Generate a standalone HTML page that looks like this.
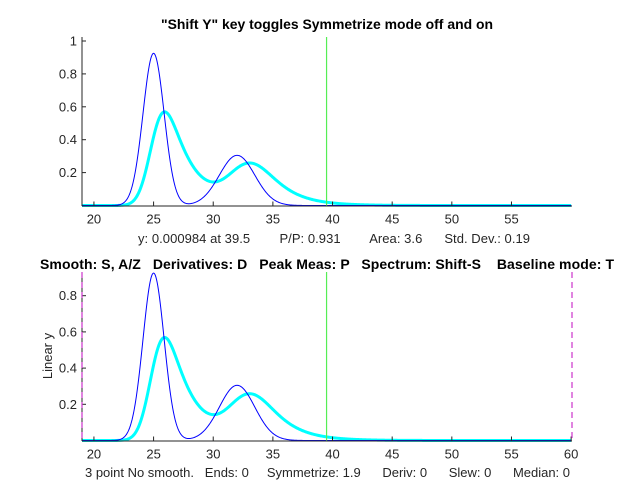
<!DOCTYPE html>
<html><head><meta charset="utf-8"><style>
html,body{margin:0;padding:0;background:#fff;}
svg{display:block;font-family:"Liberation Sans",Arial,sans-serif;}
.t{font-size:13px;fill:#262626;}
.s{font-size:13px;fill:#262626;}
.b{font-size:14px;font-weight:bold;fill:#000;}
</style></head><body>
<svg id="s" width="632" height="495" viewBox="0 0 632 495">
<rect width="632" height="495" fill="#fff"/>
<text class="b" x="161" y="29" textLength="332" lengthAdjust="spacingAndGlyphs">"Shift Y" key toggles Symmetrize mode off and on</text>
<text class="b" x="40" y="269" textLength="574" lengthAdjust="spacing" xml:space="preserve">Smooth: S, A/Z   Derivatives: D   Peak Meas: P   Spectrum: Shift-S    Baseline mode: T</text>
<text class="s" x="138" y="243" textLength="392" lengthAdjust="spacing" xml:space="preserve">y: 0.000984 at 39.5        P/P: 0.931        Area: 3.6      Std. Dev.: 0.19</text>
<text class="s" x="85" y="477" textLength="485" lengthAdjust="spacing" xml:space="preserve">3 point No smooth.   Ends: 0     Symmetrize: 1.9      Deriv: 0      Slew: 0      Median: 0</text>
<text class="s" transform="translate(52,356) rotate(-90)" text-anchor="middle">Linear y</text>
<g id="g"></g>
</svg>
<script>
var g=document.getElementById('g'),h='';
function X(x){return 82+(x-19)*11.93;}
var xs=[],b=[];
for(var x=19;x<=60.001;x+=0.05){xs.push(x);b.push(0.925*Math.exp(-Math.pow((x-25)/1.25,2))+0.305*Math.exp(-Math.pow((x-32)/2.1,2)));}
var tau=2.0,dx=0.05,a=Math.exp(-dx/tau),c=[],prev=0;
for(var i=0;i<b.length;i++){prev=a*prev+(1-a)*b[i];c.push(prev*1.1);}
function path(arr,y0,sc){var p='';for(var i=0;i<xs.length;i++){p+=(i?'L':'M')+X(xs[i]).toFixed(2)+','+(y0-arr[i]*sc).toFixed(2);}return p;}
function panel(y0,sc,top,ymax,ticksY,xt,mag){
 h+='<path d="'+path(c,y0,sc)+'" stroke="#00ffff" stroke-width="3" fill="none"/>';
 h+='<path d="'+path(b,y0,sc)+'" stroke="#0000ff" stroke-width="1" fill="none"/>';
 h+='<line x1="'+X(39.5)+'" y1="'+top+'" x2="'+X(39.5)+'" y2="'+y0+'" stroke="#55ee55" stroke-width="1.2"/>';
 h+='<line x1="82" y1="'+top+'" x2="82" y2="'+(y0+0.5)+'" stroke="#262626"/>';
 h+='<line x1="82" y1="'+(y0+0.5)+'" x2="572" y2="'+(y0+0.5)+'" stroke="#262626"/>';
 ticksY.forEach(function(v){var y=y0-v*sc;h+='<line x1="82" y1="'+y+'" x2="86" y2="'+y+'" stroke="#262626"/><text class="t" x="77" y="'+(y+4.5)+'" text-anchor="end">'+v+'</text>';});
 xt.forEach(function(v){var x=X(v);h+='<line x1="'+x+'" y1="'+y0+'" x2="'+x+'" y2="'+(y0-4)+'" stroke="#262626"/><text class="t" x="'+x+'" y="'+(y0+18)+'" text-anchor="middle">'+v+'</text>';});
 if(mag){[82,572].forEach(function(x){h+='<line x1="'+x+'" y1="'+top+'" x2="'+x+'" y2="'+y0+'" stroke="#cc33cc" stroke-width="1.2" stroke-dasharray="6,4"/>';});}
}
panel(205.5,164.5,37,1,[0.2,0.4,0.6,0.8,1],[20,25,30,35,40,45,50,55],false);
panel(440.5,181,272,0.93,[0.2,0.4,0.6,0.8],[20,25,30,35,40,45,50,55,60],true);
g.innerHTML=h;
</script>
</body></html>
